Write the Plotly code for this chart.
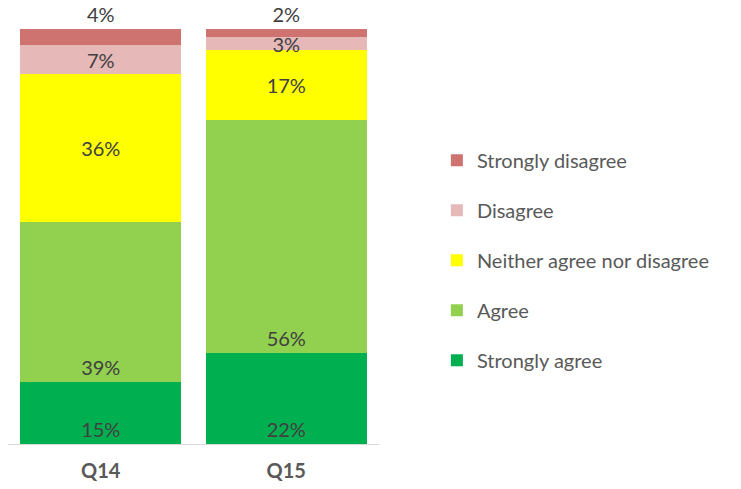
import plotly.graph_objects as go

categories = ["Q14", "Q15"]
series_names = ["Strongly agree", "Agree", "Neither agree nor disagree", "Disagree", "Strongly disagree"]
strongly_agree = [15, 22]
agree = [39, 56]
neither = [36, 17]
disagree = [7, 3]
strongly_disagree = [4, 2]
series_values = [strongly_agree, agree, neither, disagree, strongly_disagree]
colors = ["#00b050", "#92d050", "#ffff00", "#e6b8b7", "#cf7370"]
anchors = ["start", "start", "middle", "middle", "middle"]

FONT = "Lato"
fig = go.Figure()
n = len(series_names)
for i, (name, vals) in enumerate(zip(series_names, series_values)):
    last = i == n - 1
    fig.add_trace(go.Bar(
        x=categories, y=vals, name=name,
        marker=dict(color=colors[i], line=dict(width=0)),
        text=[f"{v}%" for v in vals],
        textposition="outside" if last else "inside",
        insidetextanchor=anchors[i],
        constraintext="none",
        cliponaxis=False,
        textfont=dict(family=FONT, size=20, color="#404040"),
        legendgroup=name,
        legendrank=n - i,
        hoverinfo="x+y+name",
    ))

fig.update_layout(
    width=741, height=489,
    barmode="stack", barnorm="percent", bargap=0.132,
    margin=dict(l=8, r=362, t=29, b=45, autoexpand=False),
    paper_bgcolor="white", plot_bgcolor="white",
    font=dict(family=FONT, size=20, color="#595959"),
    showlegend=True,
    legend=dict(
        traceorder="grouped", tracegroupgap=21,
        x=1.156, xanchor="left", y=0.443, yanchor="middle",
        font=dict(family=FONT, size=20, color="#595959"),
        bgcolor="rgba(0,0,0,0)",
    ),
    xaxis=dict(
        showline=True, linecolor="#d9d9d9", linewidth=1,
        ticks="", showgrid=False, zeroline=False,
        tickfont=dict(family=FONT, size=20, color="#595959", weight="bold"),
        ticklabelstandoff=9,
    ),
    yaxis=dict(range=[0, 100], visible=False, showgrid=False, zeroline=False),
)

# remove the browser's default 8px body margin so the figure fills the window
fig.write_html(
    "out.html",
    config={"displayModeBar": False},
    post_script="document.body.style.margin='0';document.body.style.overflow='hidden';",
)
